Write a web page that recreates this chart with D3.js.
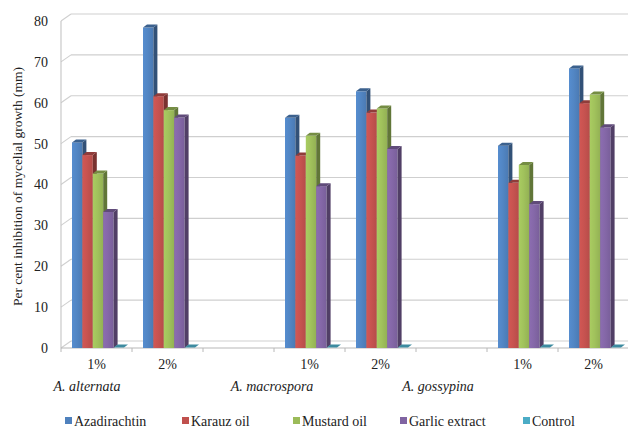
<!DOCTYPE html>
<html>
<head>
<meta charset="utf-8">
<script src="https://cdn.jsdelivr.net/npm/d3@7"></script>
<style>
  html, body { margin: 0; padding: 0; background: #fff; }
  svg text { font-family: "Liberation Serif", "Times New Roman", Tinos, "Noto Serif", "Nimbus Roman", "Nimbus Roman No9 L", FreeSerif, "DejaVu Serif", serif !important; }
</style>
</head>
<body>
<svg id="chart" width="628" height="431"></svg>
<script>
// Category slots along the x axis (empty strings are spacer slots between species)
const categories = ["1%", "2%", "", "1%", "2%", "", "1%", "2%"];
const species = ["A. alternata", "A. macrospora", "A. gossypina"];
const seriesNames = ["Azadirachtin", "Karauz oil", "Mustard oil", "Garlic extract", "Control"];
const yTicks = [0, 10, 20, 30, 40, 50, 60, 70, 80];

// Per cent inhibition values for each category slot
const azadirachtin = [50.3, 78.4, null, 56.3, 62.8, null, 49.5, 68.4];
const karauzOil    = [47.2, 61.6, null, 47.1, 57.6, null, 40.4, 59.9];
const mustardOil   = [42.7, 58.2, null, 51.9, 58.6, null, 44.8, 62.0];
const garlicExtract= [33.3, 56.4, null, 39.6, 48.7, null, 35.2, 54.0];
const control      = [0, 0, null, 0, 0, null, 0, 0];

const seriesValues = [azadirachtin, karauzOil, mustardOil, garlicExtract, control];
const colors = ["#4F81BD", "#C0504D", "#9BBB59", "#8064A2", "#4BACC6"];

const svg = d3.select("#chart");

// Plot frame and 3-D offsets
const plotLeft = 61, plotRight = 629, plotBottom = 348, plotTop = 21;
const wallDx = 10, wallDy = 7;   // back wall offset
const barDx = 4, barDy = 3;      // bar depth

const x = d3.scaleBand().domain(d3.range(categories.length)).range([plotLeft, plotRight]);
const xs = d3.scaleBand().domain(seriesNames).range([11, 63]);
const y = d3.scaleLinear().domain([0, 80]).range([plotBottom, plotTop]);

const defs = svg.append("defs");
colors.forEach((c, i) => {
  const g = defs.append("linearGradient").attr("id", "grad" + i)
    .attr("x1", 0).attr("x2", 1).attr("y1", 0).attr("y2", 0);
  g.append("stop").attr("offset", 0).attr("stop-color", d3.color(c).brighter(0.25));
  g.append("stop").attr("offset", 0.45).attr("stop-color", d3.color(c).brighter(0.1));
  g.append("stop").attr("offset", 1).attr("stop-color", d3.color(c).darker(0.15));
});

// Back-wall gridlines and side-wall diagonals
const grid = svg.append("g").attr("stroke", "#cfcfcf").attr("stroke-width", 1.1).attr("fill", "none");
yTicks.forEach(t => {
  grid.append("line")
    .attr("x1", plotLeft + wallDx).attr("x2", plotRight)
    .attr("y1", y(t) - wallDy).attr("y2", y(t) - wallDy);
  grid.append("line")
    .attr("x1", plotLeft).attr("x2", plotLeft + wallDx)
    .attr("y1", y(t)).attr("y2", y(t) - wallDy);
});
grid.append("line").attr("x1", plotLeft).attr("x2", plotLeft)
  .attr("y1", y(80)).attr("y2", plotBottom).attr("stroke", "#c4c4c4");

// Y axis labels
const yAxis = d3.axisLeft(y).tickValues(yTicks).tickSize(0).tickPadding(13);
const yg = svg.append("g").attr("transform", `translate(${plotLeft},0)`).call(yAxis);
yg.select(".domain").remove();
yg.selectAll("text").attr("font-size", 14).attr("fill", "#222");

// X axis line with tick marks at slot boundaries
const xg = svg.append("g");
xg.append("line").attr("x1", plotLeft).attr("x2", plotRight).attr("y1", plotBottom).attr("y2", plotBottom)
  .attr("stroke", "#b8b8b8").attr("stroke-width", 1.2);
d3.range(categories.length + 1).forEach(i => {
  const bx = plotLeft + i * x.bandwidth();
  xg.append("line").attr("x1", bx).attr("x2", bx).attr("y1", plotBottom).attr("y2", plotBottom + 4)
    .attr("stroke", "#b8b8b8");
});
const xAxis = d3.axisBottom(x).tickSize(0).tickPadding(11).tickFormat(i => categories[i]);
const xag = svg.append("g").attr("transform", `translate(0,${plotBottom})`).call(xAxis);
xag.select(".domain").remove();
xag.selectAll("text").attr("font-size", 14).attr("fill", "#222");

// Species labels (second level of the category axis)
const speciesAnchor = [x(0) + 26, x(3) - 2, x(5) + 22];
svg.append("g").selectAll("text").data(species).join("text")
  .attr("x", (d, i) => speciesAnchor[i]).attr("y", 391)
  .attr("text-anchor", "middle").attr("font-style", "italic")
  .attr("font-size", 14).attr("fill", "#222").text(d => d);

// 3-D bars
const bars = svg.append("g");
categories.forEach((cat, ci) => {
  seriesNames.forEach((s, si) => {
    const v = seriesValues[si][ci];
    if (v === null || v === undefined) return;
    const x0 = x(ci) + xs(s);
    const w = xs.bandwidth();
    const yt = y(v);
    const base = d3.color(colors[si]);
    if (v > 0) {
      // front face
      bars.append("rect").attr("x", x0).attr("y", yt).attr("width", w).attr("height", plotBottom - yt)
        .attr("fill", `url(#grad${si})`);
      // right side face
      bars.append("path")
        .attr("d", `M${x0 + w},${yt} L${x0 + w + barDx},${yt - barDy} L${x0 + w + barDx},${plotBottom - barDy} L${x0 + w},${plotBottom} Z`)
        .attr("fill", base.darker(1.3));
      // top face
      bars.append("path")
        .attr("d", `M${x0},${yt} L${x0 + barDx},${yt - barDy} L${x0 + w + barDx},${yt - barDy} L${x0 + w},${yt} Z`)
        .attr("fill", base.darker(0.8));
    } else {
      // flat zero-height bar: only its top face shows
      bars.append("path")
        .attr("d", `M${x0},${plotBottom - 0.5} L${x0 + barDx},${plotBottom - barDy - 0.5} L${x0 + w + barDx},${plotBottom - barDy - 0.5} L${x0 + w},${plotBottom - 0.5} Z`)
        .attr("fill", base.darker(0.6));
    }
  });
});

// Y axis title
svg.append("text")
  .attr("transform", `translate(22,${(plotTop + plotBottom) / 2 + 2}) rotate(-90)`)
  .attr("text-anchor", "middle").attr("font-size", 13.5).attr("fill", "#222")
  .text("Per cent inhibition of mycelial growth (mm)");

// Legend
const legendX = [65, 182, 293, 400, 523];
const lg = svg.append("g").selectAll("g").data(seriesNames).join("g")
  .attr("transform", (d, i) => `translate(${legendX[i]},421)`);
lg.append("rect").attr("x", 0).attr("y", -4).attr("width", 7).attr("height", 7)
  .attr("fill", (d, i) => colors[i]);
lg.append("text").attr("x", 9).attr("y", 4.5).attr("font-size", 14).attr("fill", "#222")
  .text(d => d);
</script>
</body>
</html>
